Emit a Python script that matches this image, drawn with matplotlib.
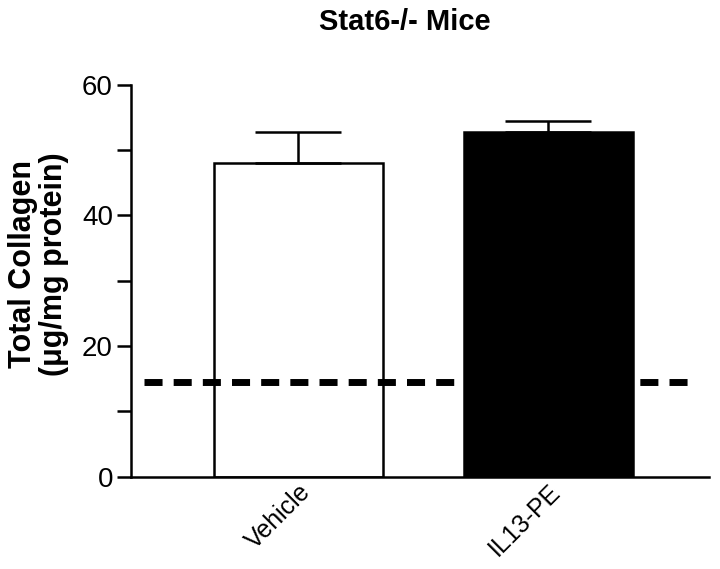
import matplotlib
matplotlib.use("Agg")
import matplotlib.pyplot as plt
from matplotlib.ticker import MultipleLocator

plt.rcParams['font.family'] = ['Liberation Sans', 'DejaVu Sans']

# Data
groups = ['Vehicle', 'IL13-PE']
collagen = [48.1, 52.7]
sem = [4.6, 1.7]
baseline = 14.5

fig = plt.figure(figsize=(7.2, 5.69), dpi=100)
ax = fig.add_axes([0.182, 0.162, 0.803, 0.689])

x = [0, 1]
ax.bar(x, collagen, width=0.676, color=['white', 'black'], edgecolor='black',
       linewidth=1.8, zorder=2)
ax.errorbar(x, collagen, yerr=[[0, 0], sem], fmt='none', ecolor='black',
            elinewidth=1.8, capsize=31, capthick=1.8, zorder=3)
ax.plot([-0.616, 1.596], [baseline, baseline], color='black', lw=5,
        dashes=(2.6, 1.6), zorder=4)

ax.set_xlim(-0.668, 1.644)
ax.set_ylim(0, 60)
ax.yaxis.set_major_locator(MultipleLocator(20))
ax.yaxis.set_minor_locator(MultipleLocator(10))
ax.set_xticks(x)
ax.set_xticklabels(groups, rotation=45, ha='right', rotation_mode='anchor', fontsize=18)
ax.tick_params(axis='x', length=0, pad=2)
ax.tick_params(axis='y', which='major', length=10, width=1.8, labelsize=20, pad=3)
ax.tick_params(axis='y', which='minor', length=10, width=1.8)

for s in ['top', 'right']:
    ax.spines[s].set_visible(False)
for s in ['left', 'bottom']:
    ax.spines[s].set_linewidth(1.8)

fig.text(0.053, 0.536, 'Total Collagen\n(μg/mg protein)', rotation=90, fontsize=22,
         fontweight='bold', ha='center', va='center', linespacing=1.05)
fig.text(0.562, 0.962, 'Stat6-/- Mice', fontsize=21, fontweight='bold', ha='center', va='center')

fig.savefig('out.png', dpi=100)
